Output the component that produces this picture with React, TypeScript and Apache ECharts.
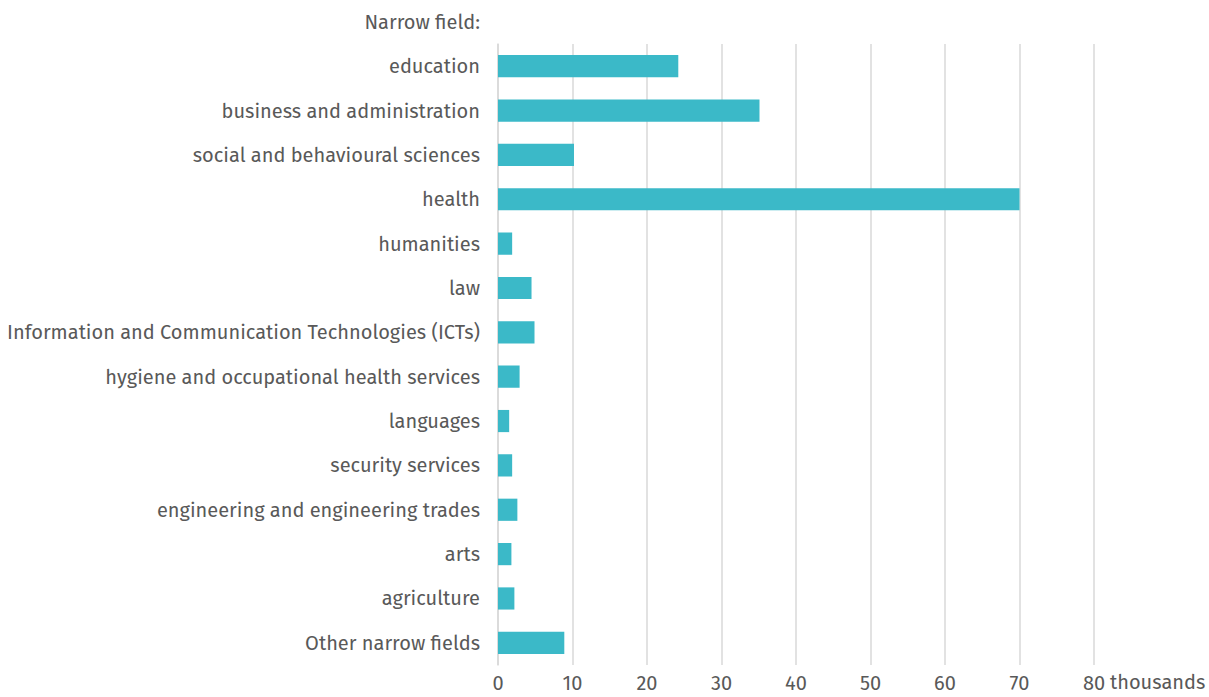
import React, { useEffect, useRef } from "react";
import * as echarts from "echarts";

const categories = [
  "education",
  "business and administration",
  "social and behavioural sciences",
  "health",
  "humanities",
  "law",
  "Information and Communication Technologies (ICTs)",
  "hygiene and occupational health services",
  "languages",
  "security services",
  "engineering and engineering trades",
  "arts",
  "agriculture",
  "Other narrow fields",
];

const values = [24.2, 35.1, 10.2, 70.0, 1.9, 4.5, 4.9, 2.9, 1.5, 1.9, 2.6, 1.8, 2.2, 8.9];

const axisTicks = [0, 10, 20, 30, 40, 50, 60, 70, 80];
const unitLabel = "thousands";
const headerLabel = "Narrow field:";

const FONT = "'Fira Sans', 'Open Sans', 'Noto Sans', sans-serif";
const TEXT = "#595959";

export default function App() {
  const ref = useRef<HTMLDivElement>(null);
  useEffect(() => {
    if (!ref.current) return;
    const chart = echarts.init(ref.current, undefined, { renderer: "svg" });
    chart.setOption({
      animation: false,
      backgroundColor: "#ffffff",
      textStyle: { fontFamily: FONT },
      grid: { left: 498, right: 115, top: 44, bottom: 32, containLabel: false },
      xAxis: {
        type: "value",
        min: axisTicks[0],
        max: axisTicks[axisTicks.length - 1],
        interval: 10,
        axisLine: { show: false },
        axisTick: { show: false },
        splitLine: { show: true, lineStyle: { color: "#d9d9d9", width: 1.5 } },
        axisLabel: {
          color: TEXT,
          fontSize: 20,
          lineHeight: 18,
          fontFamily: FONT,
          margin: 9,
        },
      },
      yAxis: {
        type: "category",
        inverse: true,
        data: categories,
        axisLine: { show: true, lineStyle: { color: "#d9d9d9", width: 1.5 } },
        axisTick: { show: false },
        axisLabel: { color: TEXT, fontSize: 20, fontFamily: FONT, margin: 18 },
      },
      series: [
        {
          type: "bar",
          data: values,
          barWidth: "50%",
          itemStyle: { color: "#3bb9c8" },
        },
      ],
      graphic: [
        {
          type: "text",
          x: 480,
          y: 22,
          style: {
            text: headerLabel,
            fill: TEXT,
            font: `20px ${FONT}`,
            textAlign: "right",
            textVerticalAlign: "middle",
          },
        },
        {
          type: "text",
          x: 1110,
          y: 682,
          style: {
            text: unitLabel,
            fill: TEXT,
            font: `20px ${FONT}`,
            textAlign: "left",
            textVerticalAlign: "middle",
          },
        },
      ],
    });
    return () => chart.dispose();
  }, []);
  return (
    <div
      ref={ref}
      style={{ position: "fixed", left: 0, top: 0, width: 1209, height: 697 }}
    />
  );
}
